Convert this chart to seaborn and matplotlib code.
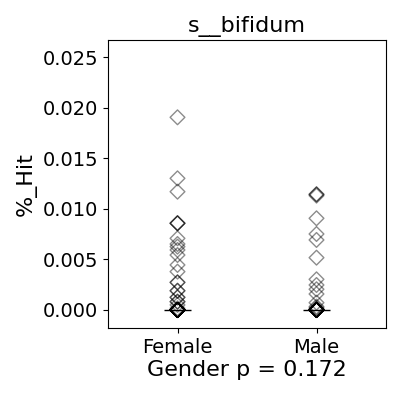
import pandas as pd
import numpy as np
import matplotlib
matplotlib.use('Agg')
import matplotlib.pyplot as plt
import seaborn as sns

# values
female_hits = [0.01904, 0.01301, 0.01169, 0.00857, 0.00857, 0.00857, 0.00708, 0.00652,
               0.00626, 0.00593, 0.00543, 0.00445, 0.00379, 0.00273, 0.00273, 0.0019,
               0.0019, 0.00125, 0.00125, 0.00082, 0.00082, 0.0005, 0.00017] + [0.0] * 25
male_hits = [0.01143, 0.01143, 0.0113, 0.00906, 0.00751, 0.00692, 0.00517, 0.00303,
             0.00247, 0.00205, 0.00158, 0.00072, 0.00033, 0.0002, 0.0001] + [0.0] * 18
groups = ['Female', 'Male']

df = pd.DataFrame({
    'Gender': ['Female'] * len(female_hits) + ['Male'] * len(male_hits),
    '%_Hit': female_hits + male_hits,
})

fig, ax = plt.subplots(figsize=(4, 4), dpi=100)
fig.subplots_adjust(left=0.27, right=0.965, top=0.9, bottom=0.18)

# median line only
sns.boxplot(x='Gender', y='%_Hit', data=df, order=groups, ax=ax, width=0.2,
            showbox=False, showcaps=False, showfliers=False, whis=0,
            whiskerprops={'visible': False},
            medianprops={'color': 'black', 'linewidth': 1})

sns.stripplot(x='Gender', y='%_Hit', data=df, order=groups, ax=ax, jitter=False,
              marker='D', size=7.5, color='black', edgecolor='black', linewidth=1, alpha=0.45)
for coll in ax.collections:
    coll.set_facecolor('none')

ax.set_ylim(-0.00178, 0.02668)
ax.set_xlim(-0.5, 1.5)
ax.set_yticks([0, 0.005, 0.01, 0.015, 0.02, 0.025])
ax.set_yticklabels(['0.000', '0.005', '0.010', '0.015', '0.020', '0.025'])
ax.tick_params(labelsize=14)
ax.set_title('s__bifidum', fontsize=16)
ax.set_xlabel('Gender p = 0.172', fontsize=16, labelpad=2)
ax.set_ylabel('%_Hit', fontsize=16)

plt.savefig('out.png', dpi=100)
